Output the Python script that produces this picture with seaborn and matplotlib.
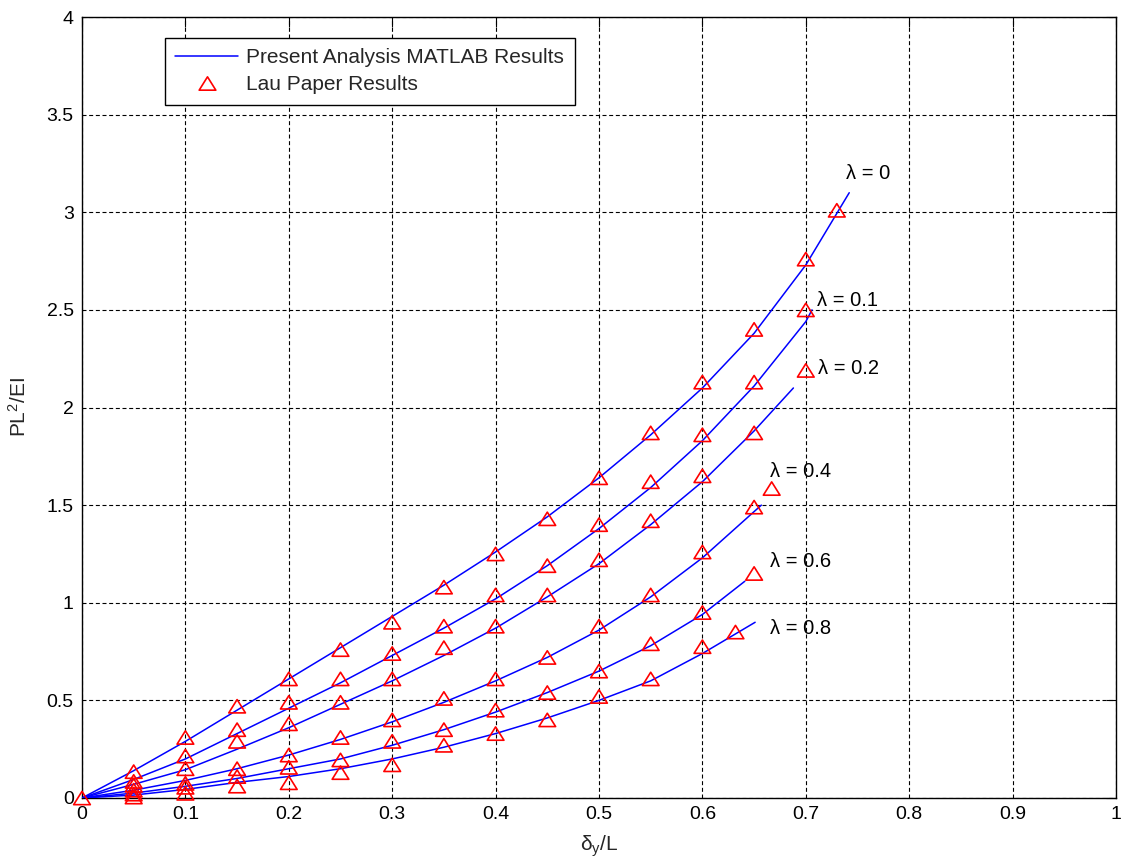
import numpy as np
import pandas as pd
import matplotlib
matplotlib.use('Agg')
import matplotlib.pyplot as plt
import seaborn as sns
from matplotlib.path import Path
from matplotlib.markers import MarkerStyle
from matplotlib.lines import Line2D

# ---------------- data ----------------
lam_names = ['λ = 0', 'λ = 0.1', 'λ = 0.2', 'λ = 0.4', 'λ = 0.6', 'λ = 0.8']

# Lau paper results (markers)
lau_x_00 = [0, 0.05, 0.10, 0.15, 0.20, 0.25, 0.30, 0.35, 0.40, 0.45, 0.50, 0.55, 0.60, 0.65, 0.70, 0.73]
lau_y_00 = [0, 0.135, 0.31, 0.47, 0.61, 0.76, 0.90, 1.08, 1.25, 1.43, 1.64, 1.87, 2.13, 2.40, 2.76, 3.01]
lau_x_01 = [0.05, 0.10, 0.15, 0.20, 0.25, 0.30, 0.35, 0.40, 0.45, 0.50, 0.55, 0.60, 0.65, 0.70]
lau_y_01 = [0.085, 0.215, 0.35, 0.49, 0.61, 0.74, 0.88, 1.04, 1.19, 1.40, 1.62, 1.86, 2.13, 2.50]
lau_x_02 = [0.05, 0.10, 0.15, 0.20, 0.25, 0.30, 0.35, 0.40, 0.45, 0.50, 0.55, 0.60, 0.65, 0.70]
lau_y_02 = [0.065, 0.15, 0.29, 0.38, 0.49, 0.61, 0.77, 0.88, 1.04, 1.22, 1.42, 1.65, 1.87, 2.19]
lau_x_04 = [0.05, 0.10, 0.15, 0.20, 0.25, 0.30, 0.35, 0.40, 0.45, 0.50, 0.55, 0.60, 0.65, 0.667]
lau_y_04 = [0.04, 0.075, 0.15, 0.22, 0.31, 0.40, 0.51, 0.61, 0.72, 0.88, 1.04, 1.26, 1.49, 1.585]
lau_x_06 = [0.05, 0.10, 0.15, 0.20, 0.25, 0.30, 0.35, 0.40, 0.45, 0.50, 0.55, 0.60, 0.65]
lau_y_06 = [0.02, 0.055, 0.11, 0.157, 0.195, 0.29, 0.35, 0.45, 0.54, 0.65, 0.79, 0.95, 1.15]
lau_x_08 = [0.05, 0.10, 0.15, 0.20, 0.25, 0.30, 0.35, 0.40, 0.45, 0.50, 0.55, 0.60, 0.632]
lau_y_08 = [0.005, 0.024, 0.061, 0.078, 0.13, 0.17, 0.27, 0.33, 0.40, 0.52, 0.61, 0.775, 0.85]

# Present analysis (MATLAB) curves
mat_x_00 = [0, 0.05, 0.10, 0.15, 0.20, 0.25, 0.30, 0.35, 0.40, 0.45, 0.50, 0.55, 0.60, 0.65, 0.70, 0.742]
mat_y_00 = [0, 0.14, 0.29, 0.45, 0.61, 0.77, 0.93, 1.09, 1.26, 1.44, 1.64, 1.86, 2.10, 2.38, 2.73, 3.10]
mat_x_01 = [0, 0.05, 0.10, 0.15, 0.20, 0.25, 0.30, 0.35, 0.40, 0.45, 0.50, 0.55, 0.60, 0.65, 0.70, 0.706]
mat_y_01 = [0, 0.095, 0.20, 0.33, 0.46, 0.59, 0.73, 0.87, 1.02, 1.19, 1.38, 1.59, 1.83, 2.11, 2.44, 2.50]
mat_x_02 = [0, 0.05, 0.10, 0.15, 0.20, 0.25, 0.30, 0.35, 0.40, 0.45, 0.50, 0.55, 0.60, 0.65, 0.688]
mat_y_02 = [0, 0.07, 0.145, 0.25, 0.36, 0.48, 0.60, 0.73, 0.87, 1.03, 1.20, 1.40, 1.62, 1.88, 2.10]
mat_x_04 = [0, 0.05, 0.10, 0.15, 0.20, 0.25, 0.30, 0.35, 0.40, 0.45, 0.50, 0.55, 0.60, 0.657]
mat_y_04 = [0, 0.04, 0.09, 0.15, 0.22, 0.30, 0.39, 0.49, 0.60, 0.72, 0.86, 1.03, 1.23, 1.50]
mat_x_06 = [0, 0.05, 0.10, 0.15, 0.20, 0.25, 0.30, 0.35, 0.40, 0.45, 0.50, 0.55, 0.60, 0.641]
mat_y_06 = [0, 0.025, 0.06, 0.10, 0.15, 0.20, 0.27, 0.35, 0.44, 0.54, 0.65, 0.78, 0.94, 1.11]
mat_x_08 = [0, 0.05, 0.10, 0.15, 0.20, 0.25, 0.30, 0.35, 0.40, 0.45, 0.50, 0.55, 0.60, 0.651]
mat_y_08 = [0, 0.015, 0.044, 0.08, 0.11, 0.15, 0.20, 0.26, 0.33, 0.41, 0.50, 0.60, 0.74, 0.90]

# curve label anchor points
label_x = [0.739, 0.711, 0.712, 0.665, 0.665, 0.665]
label_y = [3.20, 2.55, 2.20, 1.67, 1.21, 0.87]

x_ticks = [0, 0.1, 0.2, 0.3, 0.4, 0.5, 0.6, 0.7, 0.8, 0.9, 1]
y_ticks = [0, 0.5, 1, 1.5, 2, 2.5, 3, 3.5, 4]
x_tick_labels = ['0', '0.1', '0.2', '0.3', '0.4', '0.5', '0.6', '0.7', '0.8', '0.9', '1']
y_tick_labels = ['0', '0.5', '1', '1.5', '2', '2.5', '3', '3.5', '4']

# ---------------- build long tables ----------------
lau_sets = [(lau_x_00, lau_y_00), (lau_x_01, lau_y_01), (lau_x_02, lau_y_02),
            (lau_x_04, lau_y_04), (lau_x_06, lau_y_06), (lau_x_08, lau_y_08)]
mat_sets = [(mat_x_00, mat_y_00), (mat_x_01, mat_y_01), (mat_x_02, mat_y_02),
            (mat_x_04, mat_y_04), (mat_x_06, mat_y_06), (mat_x_08, mat_y_08)]

lau_df = pd.concat([pd.DataFrame({'x': x, 'y': y, 'lam': n})
                    for (x, y), n in zip(lau_sets, lam_names)], ignore_index=True)
mat_df = pd.concat([pd.DataFrame({'x': x, 'y': y, 'lam': n})
                    for (x, y), n in zip(mat_sets, lam_names)], ignore_index=True)

# ---------------- style ----------------
sns.set_style('white')
plt.rcParams['font.family'] = ['Liberation Sans', 'DejaVu Sans']
plt.rcParams['mathtext.default'] = 'regular'

fig = plt.figure(figsize=(11.31, 8.65), dpi=100)
ax = fig.add_axes([82 / 1131, 1 - 798 / 865, (1116 - 82) / 1131, (798 - 17) / 865])

# MATLAB-like triangle (wider than tall)
tri = Path([(-1.0, -0.8), (1.0, -0.8), (0.0, 0.8), (-1.0, -0.8)],
           [Path.MOVETO, Path.LINETO, Path.LINETO, Path.CLOSEPOLY])
tri_marker = MarkerStyle(tri)
ms = 12
mew = 1.2

sns.lineplot(data=mat_df, x='x', y='y', units='lam', estimator=None, sort=False,
             color='#0000ff', linewidth=1.1, ax=ax, legend=False, zorder=3)
sns.scatterplot(data=lau_df, x='x', y='y', marker=tri_marker, s=ms ** 2,
                edgecolor='#ff0000', color='#ff0000', linewidth=mew, ax=ax,
                legend=False, zorder=4)
for coll in ax.collections:
    coll.set_facecolor('none')
    coll.set_edgecolor('#ff0000')
    coll.set_clip_on(False)

for name, lx, ly in zip(lam_names, label_x, label_y):
    ax.text(lx, ly, name, ha='left', va='center', fontsize=14.5, color='black')

ax.set_xlim(0, 1)
ax.set_ylim(0, 4)
ax.set_xticks(x_ticks)
ax.set_xticklabels(x_tick_labels)
ax.set_yticks(y_ticks)
ax.set_yticklabels(y_tick_labels)
ax.tick_params(direction='in', length=7, width=0.8, top=True, right=True,
               labelsize=14, colors='black', pad=6)
ax.grid(True, color='black', linestyle=(0, (3.6, 2.4)), linewidth=0.8)
ax.set_axisbelow(True)
for sp in ax.spines.values():
    sp.set_color('black')
    sp.set_linewidth(1.0)

ax.set_xlabel('δ$_y$/L', fontsize=15, labelpad=7)
ax.set_ylabel('PL$^2$/EI', fontsize=15, labelpad=12)

handles = [Line2D([], [], color='#0000ff', linewidth=1.1),
           Line2D([], [], linestyle='none', marker=tri_marker, markersize=ms,
                  markerfacecolor='none', markeredgecolor='#ff0000', markeredgewidth=mew)]
leg = ax.legend(handles, ['Present Analysis MATLAB Results', 'Lau Paper Results'],
                loc='upper left', bbox_to_anchor=((165 - 82) / 1034, (798 - 38) / 781),
                borderaxespad=0, fontsize=15, frameon=True, fancybox=False,
                framealpha=1, edgecolor='black', handlelength=3.0, handletextpad=0.4,
                borderpad=0.5, labelspacing=0.38)
leg.get_frame().set_linewidth(1.0)

fig.savefig('out.png', dpi=100, facecolor='white')
